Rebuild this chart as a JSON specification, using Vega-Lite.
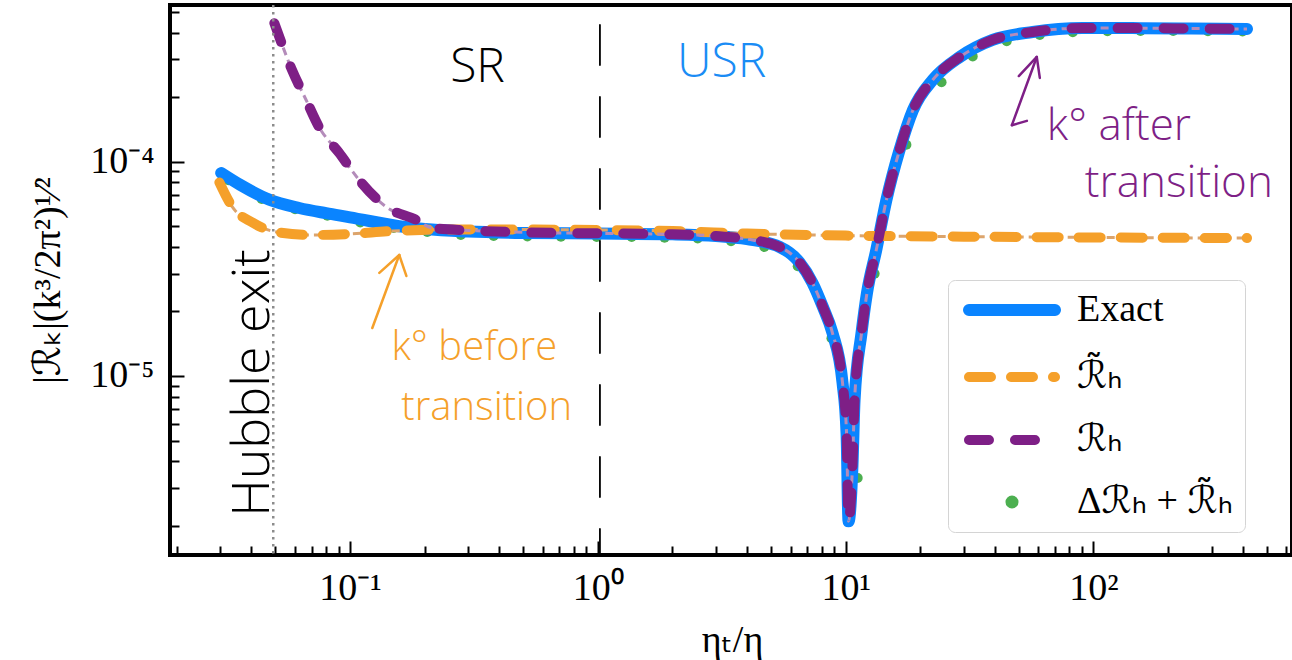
{
  "$schema": "https://vega.github.io/schema/vega-lite/v6.json",
  "width": 1122,
  "height": 550,
  "autosize": {"type": "none"},
  "padding": {"left": 170, "top": 5, "right": 0, "bottom": 105},
  "background": "white",
  "config": {
    "view": {"stroke": "black", "strokeWidth": 4},
    "axis": {
      "grid": false, "domain": false, "tickColor": "black", "tickWidth": 2,
      "labelColor": "black", "titleColor": "black",
      "labelFont": "Liberation Serif", "titleFont": "'Liberation Serif', 'DejaVu Sans'",
      "labelFontSize": 38, "titleFontSize": 38, "titleFontWeight": "normal",
      "labelOverlap": false, "labelFlush": false
    },
    "legend": {
      "title": null, "orient": "none", "legendX": 778, "legendY": 275,
      "padding": 11, "rowPadding": 23, "fillColor": "white", "strokeColor": "#d4d4d4", "cornerRadius": 7,
      "labelFont": "'Liberation Serif', 'DejaVu Sans'", "labelFontSize": 38, "labelColor": "black", "labelLimit": 400,
      "symbolSize": 100, "symbolOffset": 34, "labelOffset": 46, "symbolType": "stroke"
    }
  },
  "datasets": {
    "vlines": [{"id": "hub", "x": 0.049}, {"id": "sr", "x": 1.02}],
    "curves": [
      {"id": "sum", "series": "Δℛₕ + ℛ̃ₕ", "x": 0.0323, "y": 0.000082},
      {"id": "sum", "series": "Δℛₕ + ℛ̃ₕ", "x": 0.044, "y": 0.000067},
      {"id": "sum", "series": "Δℛₕ + ℛ̃ₕ", "x": 0.060, "y": 0.000060},
      {"id": "sum", "series": "Δℛₕ + ℛ̃ₕ", "x": 0.081, "y": 0.000056},
      {"id": "sum", "series": "Δℛₕ + ℛ̃ₕ", "x": 0.110, "y": 0.000052},
      {"id": "sum", "series": "Δℛₕ + ℛ̃ₕ", "x": 0.150, "y": 0.000049},
      {"id": "sum", "series": "Δℛₕ + ℛ̃ₕ", "x": 0.205, "y": 0.000047},
      {"id": "sum", "series": "Δℛₕ + ℛ̃ₕ", "x": 0.28, "y": 0.0000455},
      {"id": "sum", "series": "Δℛₕ + ℛ̃ₕ", "x": 0.38, "y": 0.000045},
      {"id": "sum", "series": "Δℛₕ + ℛ̃ₕ", "x": 0.52, "y": 0.0000448},
      {"id": "sum", "series": "Δℛₕ + ℛ̃ₕ", "x": 0.71, "y": 0.0000447},
      {"id": "sum", "series": "Δℛₕ + ℛ̃ₕ", "x": 0.99, "y": 0.0000445},
      {"id": "sum", "series": "Δℛₕ + ℛ̃ₕ", "x": 1.37, "y": 0.0000445},
      {"id": "sum", "series": "Δℛₕ + ℛ̃ₕ", "x": 1.86, "y": 0.0000442},
      {"id": "sum", "series": "Δℛₕ + ℛ̃ₕ", "x": 2.53, "y": 0.0000438},
      {"id": "sum", "series": "Δℛₕ + ℛ̃ₕ", "x": 3.45, "y": 0.0000425},
      {"id": "sum", "series": "Δℛₕ + ℛ̃ₕ", "x": 4.7, "y": 0.000040},
      {"id": "sum", "series": "Δℛₕ + ℛ̃ₕ", "x": 6.41, "y": 0.0000325},
      {"id": "sum", "series": "Δℛₕ + ℛ̃ₕ", "x": 8.77, "y": 0.000015},
      {"id": "sum", "series": "Δℛₕ + ℛ̃ₕ", "x": 11.19, "y": 0.00000334},
      {"id": "sum", "series": "Δℛₕ + ℛ̃ₕ", "x": 13.1, "y": 0.000030},
      {"id": "sum", "series": "Δℛₕ + ℛ̃ₕ", "x": 17.6, "y": 0.000120},
      {"id": "sum", "series": "Δℛₕ + ℛ̃ₕ", "x": 24.4, "y": 0.000235},
      {"id": "sum", "series": "Δℛₕ + ℛ̃ₕ", "x": 32.6, "y": 0.000310},
      {"id": "sum", "series": "Δℛₕ + ℛ̃ₕ", "x": 44.7, "y": 0.000365},
      {"id": "sum", "series": "Δℛₕ + ℛ̃ₕ", "x": 60.8, "y": 0.000390},
      {"id": "sum", "series": "Δℛₕ + ℛ̃ₕ", "x": 82.6, "y": 0.000402},
      {"id": "sum", "series": "Δℛₕ + ℛ̃ₕ", "x": 114, "y": 0.000406},
      {"id": "sum", "series": "Δℛₕ + ℛ̃ₕ", "x": 155, "y": 0.000407},
      {"id": "sum", "series": "Δℛₕ + ℛ̃ₕ", "x": 210, "y": 0.000407},
      {"id": "sum", "series": "Δℛₕ + ℛ̃ₕ", "x": 290, "y": 0.000406},
      {"id": "sum", "series": "Δℛₕ + ℛ̃ₕ", "x": 400, "y": 0.000405},

      {"id": "exact", "series": "Exact", "x": 0.0302, "y": 0.0000885},
      {"id": "exact", "series": "Exact", "x": 0.036, "y": 0.000078},
      {"id": "exact", "series": "Exact", "x": 0.0472, "y": 0.0000665},
      {"id": "exact", "series": "Exact", "x": 0.0624, "y": 0.0000608},
      {"id": "exact", "series": "Exact", "x": 0.08, "y": 0.0000575},
      {"id": "exact", "series": "Exact", "x": 0.1, "y": 0.000055},
      {"id": "exact", "series": "Exact", "x": 0.158, "y": 0.000050},
      {"id": "exact", "series": "Exact", "x": 0.2, "y": 0.0000485},
      {"id": "exact", "series": "Exact", "x": 0.3, "y": 0.0000472},
      {"id": "exact", "series": "Exact", "x": 0.5, "y": 0.0000465},
      {"id": "exact", "series": "Exact", "x": 1, "y": 0.0000462},
      {"id": "exact", "series": "Exact", "x": 2, "y": 0.0000458},
      {"id": "exact", "series": "Exact", "x": 3, "y": 0.000045},
      {"id": "exact", "series": "Exact", "x": 4, "y": 0.0000435},
      {"id": "exact", "series": "Exact", "x": 5.42, "y": 0.000040},
      {"id": "exact", "series": "Exact", "x": 6.5, "y": 0.000034},
      {"id": "exact", "series": "Exact", "x": 7.35, "y": 0.0000272},
      {"id": "exact", "series": "Exact", "x": 8.07, "y": 0.0000212},
      {"id": "exact", "series": "Exact", "x": 8.85, "y": 0.0000159},
      {"id": "exact", "series": "Exact", "x": 9.72, "y": 0.0000093},
      {"id": "exact", "series": "Exact", "x": 10.09, "y": 0.0000054},
      {"id": "exact", "series": "Exact", "x": 10.28, "y": 0.0000021},
      {"id": "exact", "series": "Exact", "x": 10.66, "y": 0.0000038},
      {"id": "exact", "series": "Exact", "x": 10.87, "y": 0.0000077},
      {"id": "exact", "series": "Exact", "x": 11.6, "y": 0.0000159},
      {"id": "exact", "series": "Exact", "x": 12.2, "y": 0.0000244},
      {"id": "exact", "series": "Exact", "x": 13.3, "y": 0.0000387},
      {"id": "exact", "series": "Exact", "x": 14.6, "y": 0.000066},
      {"id": "exact", "series": "Exact", "x": 16.5, "y": 0.000113},
      {"id": "exact", "series": "Exact", "x": 18.7, "y": 0.000174},
      {"id": "exact", "series": "Exact", "x": 22.5, "y": 0.000241},
      {"id": "exact", "series": "Exact", "x": 28.9, "y": 0.000308},
      {"id": "exact", "series": "Exact", "x": 39.2, "y": 0.000370},
      {"id": "exact", "series": "Exact", "x": 56.9, "y": 0.000403},
      {"id": "exact", "series": "Exact", "x": 90.6, "y": 0.000420},
      {"id": "exact", "series": "Exact", "x": 144, "y": 0.000420},
      {"id": "exact", "series": "Exact", "x": 250, "y": 0.000418},
      {"id": "exact", "series": "Exact", "x": 417, "y": 0.000416},

      {"id": "rt", "series": "ℛ̃ₕ", "x": 0.0297, "y": 0.000080},
      {"id": "rt", "series": "ℛ̃ₕ", "x": 0.0335, "y": 0.0000615},
      {"id": "rt", "series": "ℛ̃ₕ", "x": 0.0404, "y": 0.000052},
      {"id": "rt", "series": "ℛ̃ₕ", "x": 0.0504, "y": 0.000047},
      {"id": "rt", "series": "ℛ̃ₕ", "x": 0.07, "y": 0.0000455},
      {"id": "rt", "series": "ℛ̃ₕ", "x": 0.1, "y": 0.000046},
      {"id": "rt", "series": "ℛ̃ₕ", "x": 0.15, "y": 0.0000475},
      {"id": "rt", "series": "ℛ̃ₕ", "x": 0.3, "y": 0.0000483},
      {"id": "rt", "series": "ℛ̃ₕ", "x": 1.0, "y": 0.000048},
      {"id": "rt", "series": "ℛ̃ₕ", "x": 2.0, "y": 0.0000475},
      {"id": "rt", "series": "ℛ̃ₕ", "x": 4, "y": 0.0000462},
      {"id": "rt", "series": "ℛ̃ₕ", "x": 10, "y": 0.0000452},
      {"id": "rt", "series": "ℛ̃ₕ", "x": 30, "y": 0.0000447},
      {"id": "rt", "series": "ℛ̃ₕ", "x": 100, "y": 0.0000443},
      {"id": "rt", "series": "ℛ̃ₕ", "x": 417, "y": 0.000044},

      {"id": "rh", "series": "ℛₕ", "x": 0.0495, "y": 0.000443},
      {"id": "rh", "series": "ℛₕ", "x": 0.0583, "y": 0.000268},
      {"id": "rh", "series": "ℛₕ", "x": 0.0665, "y": 0.000194},
      {"id": "rh", "series": "ℛₕ", "x": 0.075, "y": 0.000145},
      {"id": "rh", "series": "ℛₕ", "x": 0.0903, "y": 0.000110},
      {"id": "rh", "series": "ℛₕ", "x": 0.109, "y": 0.000082},
      {"id": "rh", "series": "ℛₕ", "x": 0.14, "y": 0.0000615},
      {"id": "rh", "series": "ℛₕ", "x": 0.185, "y": 0.0000535},
      {"id": "rh", "series": "ℛₕ", "x": 0.215, "y": 0.000049},
      {"id": "rh", "series": "ℛₕ", "x": 0.3, "y": 0.0000478},
      {"id": "rh", "series": "ℛₕ", "x": 0.5, "y": 0.0000468},
      {"id": "rh", "series": "ℛₕ", "x": 1, "y": 0.0000463},
      {"id": "rh", "series": "ℛₕ", "x": 2, "y": 0.0000458},
      {"id": "rh", "series": "ℛₕ", "x": 3, "y": 0.000045},
      {"id": "rh", "series": "ℛₕ", "x": 4, "y": 0.0000435},
      {"id": "rh", "series": "ℛₕ", "x": 5.42, "y": 0.000040},
      {"id": "rh", "series": "ℛₕ", "x": 6.5, "y": 0.000034},
      {"id": "rh", "series": "ℛₕ", "x": 7.35, "y": 0.0000272},
      {"id": "rh", "series": "ℛₕ", "x": 8.07, "y": 0.0000212},
      {"id": "rh", "series": "ℛₕ", "x": 8.85, "y": 0.0000159},
      {"id": "rh", "series": "ℛₕ", "x": 9.72, "y": 0.0000093},
      {"id": "rh", "series": "ℛₕ", "x": 10.09, "y": 0.0000054},
      {"id": "rh", "series": "ℛₕ", "x": 10.28, "y": 0.0000021},
      {"id": "rh", "series": "ℛₕ", "x": 10.66, "y": 0.0000038},
      {"id": "rh", "series": "ℛₕ", "x": 10.87, "y": 0.0000077},
      {"id": "rh", "series": "ℛₕ", "x": 11.6, "y": 0.0000159},
      {"id": "rh", "series": "ℛₕ", "x": 12.2, "y": 0.0000244},
      {"id": "rh", "series": "ℛₕ", "x": 13.3, "y": 0.0000387},
      {"id": "rh", "series": "ℛₕ", "x": 14.6, "y": 0.000066},
      {"id": "rh", "series": "ℛₕ", "x": 16.5, "y": 0.000113},
      {"id": "rh", "series": "ℛₕ", "x": 18.7, "y": 0.000174},
      {"id": "rh", "series": "ℛₕ", "x": 22.5, "y": 0.000241},
      {"id": "rh", "series": "ℛₕ", "x": 28.9, "y": 0.000308},
      {"id": "rh", "series": "ℛₕ", "x": 39.2, "y": 0.000370},
      {"id": "rh", "series": "ℛₕ", "x": 56.9, "y": 0.000403},
      {"id": "rh", "series": "ℛₕ", "x": 90.6, "y": 0.000420},
      {"id": "rh", "series": "ℛₕ", "x": 144, "y": 0.000420},
      {"id": "rh", "series": "ℛₕ", "x": 250, "y": 0.000418},
      {"id": "rh", "series": "ℛₕ", "x": 417, "y": 0.000416}
    ],
    "notes": [
      {"id": "sr", "x": 0.327, "y": 0.000274, "text": "SR"},
      {"id": "usr", "x": 3.16, "y": 0.000289, "text": "USR"},
      {"id": "hub", "x": 0.0472, "y": 0.00000927, "text": "Hubble exit"},
      {"id": "bef", "x": 0.147, "y": 0.0000119, "text": "k° before"},
      {"id": "bef", "x": 0.161, "y": 0.00000624, "text": "transition"},
      {"id": "aft", "x": 64.9, "y": 0.000126, "text": "k° after"},
      {"id": "aft", "x": 92.4, "y": 0.0000684, "text": "transition"}
    ],
    "arrows": [
      {"id": "o", "x": 0.123, "y": 0.00001675, "x2": 0.158, "y2": 0.0000367},
      {"id": "o", "x": 0.158, "y": 0.0000367, "x2": 0.1313, "y2": 0.0000303},
      {"id": "o", "x": 0.158, "y": 0.0000367, "x2": 0.1688, "y2": 0.0000293},
      {"id": "p", "x": 46.9, "y": 0.000148, "x2": 59.1, "y2": 0.000308},
      {"id": "p", "x": 46.9, "y": 0.000148, "x2": 53.9, "y2": 0.000155},
      {"id": "p", "x": 59.1, "y": 0.000308, "x2": 50.0, "y2": 0.000251},
      {"id": "p", "x": 59.1, "y": 0.000308, "x2": 60.8, "y2": 0.000246}
    ]
  },
  "layer": [
    {
      "data": {"name": "curves"},
      "encoding": {
        "x": {
          "field": "x", "type": "quantitative",
          "scale": {"type": "log", "domain": [0.01877, 633.4], "nice": false},
          "axis": {
            "values": [0.02,0.03,0.04,0.05,0.06,0.07,0.08,0.09,0.1,0.2,0.3,0.4,0.5,0.6,0.7,0.8,0.9,1,2,3,4,5,6,7,8,9,10,20,30,40,50,60,70,80,90,100,200,300,400,500,600],
            "labelExpr": "datum.value == 0.1 ? '10⁻¹' : datum.value == 1 ? '10⁰' : datum.value == 10 ? '10¹' : datum.value == 100 ? '10²' : ''",
            "tickSize": {"condition": {"test": "datum.value == 0.1 || datum.value == 1 || datum.value == 10 || datum.value == 100", "value": -14}, "value": -9},
            "labelPadding": 28,
            "title": "ηₜ/η",
            "titleX": 562, "titleY": 85, "titleBaseline": "middle", "titleAlign": "center"
          }
        },
        "y": {
          "field": "y", "type": "quantitative",
          "scale": {"type": "log", "domain": [0.0000014614, 0.0005384], "nice": false},
          "axis": {
            "values": [0.000002,0.000003,0.000004,0.000005,0.000006,0.000007,0.000008,0.000009,0.00001,0.00002,0.00003,0.00004,0.00005,0.00006,0.00007,0.00008,0.00009,0.0001,0.0002,0.0003,0.0004,0.0005],
            "labelExpr": "datum.value == 0.0001 ? '10⁻⁴' : datum.value == 0.00001 ? '10⁻⁵' : ''",
            "tickSize": {"condition": {"test": "datum.value == 0.0001 || datum.value == 0.00001", "value": -14}, "value": -9},
            "labelPadding": 30,
            "title": "|ℛₖ|(k³/2π²)¹⁄²",
            "titleX": -122, "titleY": 275, "titleAngle": 270, "titleBaseline": "middle", "titleAlign": "center"
          }
        },
        "color": {"field": "series", "type": "nominal",
          "scale": {"domain": ["Exact", "ℛ̃ₕ", "ℛₕ", "Δℛₕ + ℛ̃ₕ"], "range": ["#0a84ff", "#f5a02a", "#7e1f86", "#4caf50"]},
          "legend": {
            "encoding": {"symbols": {
              "shape": {"value": {"expr": "datum.index == 3 ? 'circle' : 'stroke'"}},
              "size": {"value": {"expr": "datum.index == 3 ? 170 : 7400"}},
              "stroke": {"value": {"expr": "datum.index == 0 ? '#0a84ff' : datum.index == 1 ? '#f5a02a' : datum.index == 2 ? '#7e1f86' : 'transparent'"}},
              "fill": {"value": {"expr": "datum.index == 3 ? '#4caf50' : 'transparent'"}},
              "strokeWidth": {"value": {"expr": "datum.index == 0 ? 12 : datum.index == 3 ? 0 : 10"}},
              "strokeDash": {"value": {"expr": "datum.index == 1 ? [22, 20] : datum.index == 2 ? [20, 26] : [1, 0]"}},
              "strokeCap": {"value": "round"},
              "opacity": {"value": 1}
            }}
          }
        }
      },
      "layer": [
        {
          "transform": [{"filter": "datum.id == 'sum'"}],
          "mark": {"type": "point", "filled": true, "size": 100, "opacity": 1},
          "encoding": {}
        },
        {
          "transform": [{"filter": "datum.id == 'exact'"}],
          "mark": {"type": "line", "strokeWidth": 12, "interpolate": "monotone", "strokeCap": "round", "strokeJoin": "round"},
          "encoding": {}
        },
        {
          "transform": [{"filter": "datum.id == 'rt'"}],
          "mark": {"type": "line", "color": "#dca46c", "strokeWidth": 3, "strokeDash": [8, 5], "interpolate": "monotone"},
          "encoding": {"color": {"value": "#dca46c"}}
        },
        {
          "transform": [{"filter": "datum.id == 'rt'"}],
          "mark": {"type": "line", "strokeWidth": 10, "strokeDash": [22, 20], "strokeCap": "round", "interpolate": "monotone"},
          "encoding": {}
        },
        {
          "transform": [{"filter": "datum.id == 'rh'"}],
          "mark": {"type": "line", "color": "#b48cba", "strokeWidth": 3, "strokeDash": [8, 5], "interpolate": "monotone"},
          "encoding": {"color": {"value": "#b48cba"}}
        },
        {
          "transform": [{"filter": "datum.id == 'rh'"}],
          "mark": {"type": "line", "strokeWidth": 10, "strokeDash": [20, 26], "strokeCap": "round", "interpolate": "monotone"},
          "encoding": {}
        }
      ]
    },
    {
      "data": {"name": "vlines"},
      "transform": [{"filter": "datum.id == 'hub'"}],
      "mark": {"type": "rule", "color": "#8c8c8c", "strokeWidth": 2.5, "strokeDash": [2.5, 4.5]},
      "encoding": {
        "x": {"field": "x", "type": "quantitative", "scale": {"type": "log", "domain": [0.01877, 633.4], "nice": false}}
      }
    },
    {
      "data": {"name": "vlines"},
      "transform": [{"filter": "datum.id == 'sr'"}],
      "mark": {"type": "rule", "color": "black", "strokeWidth": 1.8, "strokeDash": [40, 32], "strokeDashOffset": 52, "strokeCap": "round"},
      "encoding": {
        "x": {"field": "x", "type": "quantitative", "scale": {"type": "log", "domain": [0.01877, 633.4], "nice": false}}
      }
    },
    {
      "data": {"name": "notes"},
      "encoding": {
        "x": {"field": "x", "type": "quantitative", "scale": {"type": "log", "domain": [0.01877, 633.4], "nice": false}},
        "y": {"field": "y", "type": "quantitative", "scale": {"type": "log", "domain": [0.0000014614, 0.0005384], "nice": false}},
        "text": {"field": "text"}
      },
      "layer": [
        {
          "transform": [{"filter": "datum.id == 'sr'"}],
          "mark": {"type": "text", "font": "Open Sans", "fontWeight": 300, "fontSize": 48, "color": "black", "align": "center", "baseline": "middle"},
          "encoding": {}
        },
        {
          "transform": [{"filter": "datum.id == 'usr'"}],
          "mark": {"type": "text", "font": "Open Sans", "fontWeight": 300, "fontSize": 48, "color": "#1a8cf5", "align": "center", "baseline": "middle"},
          "encoding": {}
        },
        {
          "transform": [{"filter": "datum.id == 'hub'"}],
          "mark": {"type": "text", "font": "Open Sans", "fontWeight": 300, "fontSize": 52, "color": "black", "align": "center", "baseline": "alphabetic", "angle": 270},
          "encoding": {}
        },
        {
          "transform": [{"filter": "datum.id == 'bef'"}],
          "mark": {"type": "text", "font": "Open Sans", "fontWeight": 300, "fontSize": 40, "color": "#f5a02a", "align": "left", "baseline": "alphabetic"},
          "encoding": {}
        },
        {
          "transform": [{"filter": "datum.id == 'aft'"}],
          "mark": {"type": "text", "font": "Open Sans", "fontWeight": 300, "fontSize": 44, "color": "#7e1f86", "align": "left", "baseline": "alphabetic"},
          "encoding": {}
        }
      ]
    },
    {
      "data": {"name": "arrows"},
      "encoding": {
        "x": {"field": "x", "type": "quantitative", "scale": {"type": "log", "domain": [0.01877, 633.4], "nice": false}},
        "y": {"field": "y", "type": "quantitative", "scale": {"type": "log", "domain": [0.0000014614, 0.0005384], "nice": false}},
        "x2": {"field": "x2"},
        "y2": {"field": "y2"}
      },
      "layer": [
        {
          "transform": [{"filter": "datum.id == 'o'"}],
          "mark": {"type": "rule", "color": "#f5a02a", "strokeWidth": 2.5, "strokeCap": "round"},
          "encoding": {}
        },
        {
          "transform": [{"filter": "datum.id == 'p'"}],
          "mark": {"type": "rule", "color": "#7e1f86", "strokeWidth": 2.5, "strokeCap": "round"},
          "encoding": {}
        }
      ]
    }
  ]
}
